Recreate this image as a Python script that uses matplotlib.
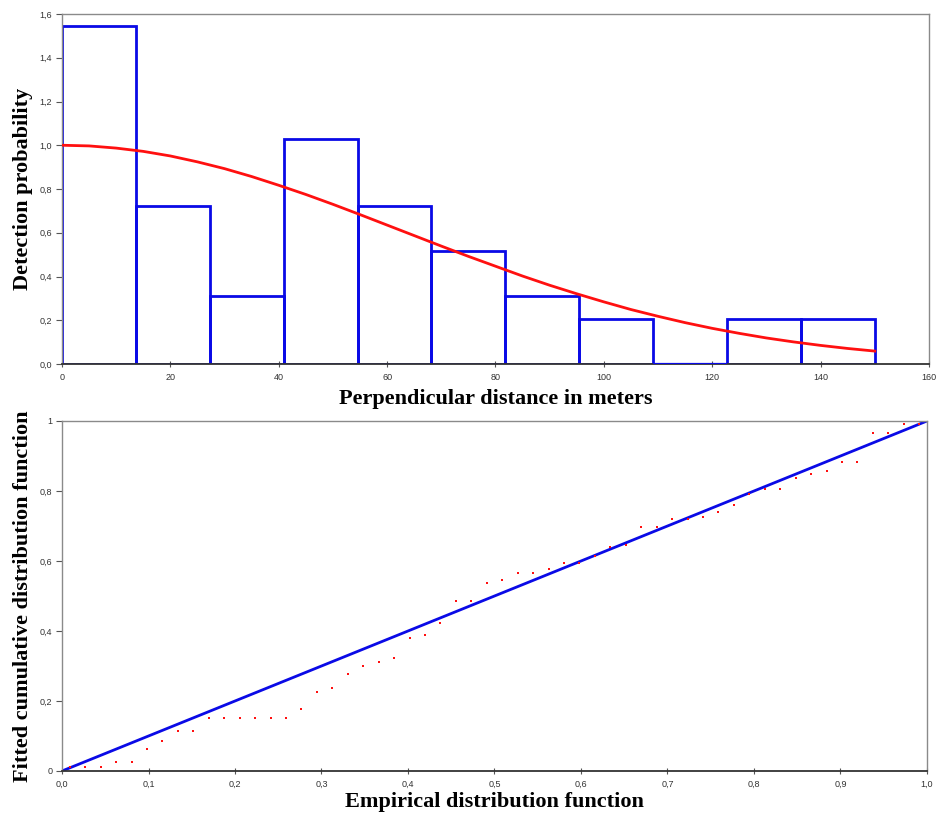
import matplotlib
matplotlib.use("Agg")
import matplotlib.pyplot as plt
from matplotlib.ticker import FuncFormatter

# ---------------- data ----------------
bin_edges = [0, 13.64, 27.27, 40.91, 54.55, 68.18, 81.82, 95.45, 109.09, 122.73, 136.36, 150.0]
bin_heights = [1.545, 0.721, 0.309, 1.030, 0.721, 0.515, 0.309, 0.206, 0.0, 0.206, 0.206]

curve_x = [0, 5, 10, 15, 20, 25, 30, 35, 40, 45, 50, 55, 60, 65, 70, 75, 80, 85, 90,
           95, 100, 105, 110, 115, 120, 125, 130, 135, 140, 145, 150]
curve_y = [1.000, 0.997, 0.987, 0.972, 0.951, 0.924, 0.893, 0.857, 0.817, 0.775, 0.730,
           0.683, 0.635, 0.587, 0.539, 0.492, 0.447, 0.402, 0.360, 0.321, 0.284, 0.249,
           0.218, 0.189, 0.163, 0.140, 0.119, 0.101, 0.085, 0.071, 0.059]

edf_x = [(i - 0.5) / 56 for i in range(1, 57)]
fitted_cdf = [0.012, 0.012, 0.012, 0.025, 0.025, 0.063, 0.087, 0.114, 0.114, 0.152,
              0.152, 0.152, 0.152, 0.152, 0.152, 0.178, 0.227, 0.238, 0.276, 0.299,
              0.312, 0.323, 0.379, 0.389, 0.423, 0.487, 0.487, 0.538, 0.547, 0.566,
              0.566, 0.576, 0.595, 0.595, 0.613, 0.639, 0.647, 0.696, 0.696, 0.719,
              0.721, 0.726, 0.740, 0.761, 0.792, 0.805, 0.805, 0.838, 0.848, 0.858,
              0.884, 0.884, 0.967, 0.967, 0.991, 0.991]
ref_line_x = [0.0, 1.0]
ref_line_y = [0.0, 1.0]

top_xticks = [0, 20, 40, 60, 80, 100, 120, 140, 160]
top_yticks = [0.0, 0.2, 0.4, 0.6, 0.8, 1.0, 1.2, 1.4, 1.6]
bot_xticks = [0.0, 0.1, 0.2, 0.3, 0.4, 0.5, 0.6, 0.7, 0.8, 0.9, 1.0]
bot_yticks = [0, 0.2, 0.4, 0.6, 0.8, 1]

# ---------------- style ----------------
W, H = 937, 817
fig = plt.figure(figsize=(W / 100, H / 100), dpi=100)
label_font = dict(family="Liberation Serif", weight="bold", size=16)
tick_font = "Liberation Sans"
BLUE = "#0a0ae6"
RED = "#ff1010"


def comma(fmt):
    return FuncFormatter(lambda v, p: (fmt % v).replace(".", ","))


def style_axes(ax):
    for s in ["top", "right", "left"]:
        ax.spines[s].set_color("#8a8a8a")
        ax.spines[s].set_linewidth(1.0)
    ax.spines["bottom"].set_color("#333333")
    ax.spines["bottom"].set_linewidth(1.3)
    ax.tick_params(axis="y", direction="out", length=4, width=0.8, color="#555555",
                   labelsize=6.5, labelcolor="#333333", pad=3)
    ax.tick_params(axis="x", direction="inout", length=5, width=0.8, color="#555555",
                   labelsize=6.5, labelcolor="#333333", pad=4)
    for lab in ax.get_xticklabels() + ax.get_yticklabels():
        lab.set_family(tick_font)


# ---------------- top panel ----------------
ax1 = fig.add_axes([62 / W, 1 - 364 / H, 867 / W, 350 / H])
widths = [bin_edges[i + 1] - bin_edges[i] for i in range(len(bin_heights))]
bars = ax1.bar(bin_edges[:-1], bin_heights, width=widths, align="edge", fill=False,
               edgecolor=BLUE, linewidth=2.0, zorder=2)
for patch, h in zip(bars, bin_heights):
    if h == 0:
        patch.set_zorder(3)
        patch.set_linewidth(1.6)
ax1.plot(curve_x, curve_y, color=RED, linewidth=2.0, zorder=4)
ax1.set_xlim(0, 160)
ax1.set_ylim(0, 1.6)
ax1.set_xticks(top_xticks)
ax1.set_yticks(top_yticks)
ax1.xaxis.set_major_formatter(FuncFormatter(lambda v, p: "%d" % v))
ax1.yaxis.set_major_formatter(comma("%.1f"))
style_axes(ax1)
ax1.set_ylabel("Detection probability", **label_font)
ax1.yaxis.set_label_coords(-0.033, 0.5)
ax1.set_xlabel("Perpendicular distance in meters", **label_font)
ax1.xaxis.set_label_coords(0.5, -0.072)

# ---------------- bottom panel ----------------
ax2 = fig.add_axes([62 / W, 1 - 771 / H, 865 / W, 350 / H])
ax2.plot(ref_line_x, ref_line_y, color=BLUE, linewidth=2.0, zorder=2)
ax2.plot(edf_x, fitted_cdf, linestyle="none", marker="s", markersize=2.1,
         color=RED, markeredgewidth=0, zorder=3)
ax2.set_xlim(0, 1)
ax2.set_ylim(0, 1)
ax2.set_xticks(bot_xticks)
ax2.set_yticks(bot_yticks)
ax2.xaxis.set_major_formatter(comma("%.1f"))
ax2.yaxis.set_major_formatter(FuncFormatter(
    lambda v, p: "0" if v == 0 else ("1" if v == 1 else ("%.1f" % v).replace(".", ","))))
style_axes(ax2)
ax2.set_ylabel("Fitted cumulative distribution function", **label_font)
ax2.yaxis.set_label_coords(-0.033, 0.5)
ax2.set_xlabel("Empirical distribution function", **label_font)
ax2.xaxis.set_label_coords(0.5, -0.06)

fig.savefig("out.png", dpi=100)
